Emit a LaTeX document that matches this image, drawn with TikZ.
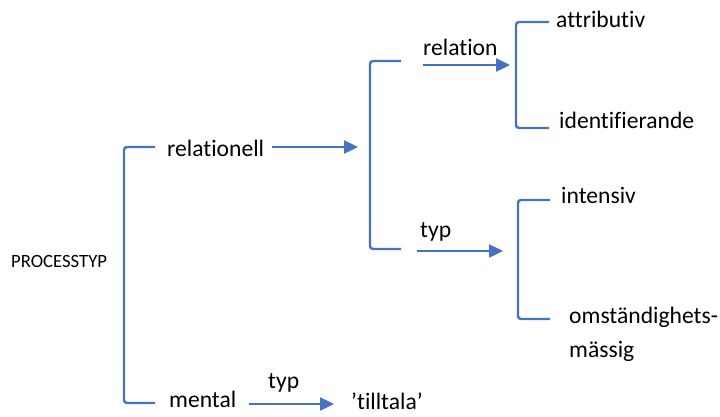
\documentclass[tikz,border=0pt]{standalone}
\usepackage{fontspec}
\setmainfont{Carlito}[Ligatures=NoCommon]
\usetikzlibrary{arrows.meta}
\definecolor{linkblue}{HTML}{4472C4}
\begin{document}
\begin{tikzpicture}[x=1pt,y=-1pt,
  lbl/.style={anchor=base west,inner sep=0pt,font=\fontsize{23.6}{28}\selectfont},
  small/.style={anchor=base west,inner sep=0pt,font=\fontsize{18.7}{22}\selectfont},
  brace/.style={draw=linkblue,line width=2.4pt,rounded corners=3pt},
  link/.style={draw=linkblue,line width=2.4pt,-{Triangle[length=14pt,width=13pt]}}]
\useasboundingbox (0,0) rectangle (720,416);

% labels (placed by baseline)
\node[small] (proc) at (11,267) {PROCESSTYP};
\node[lbl] (relnell) at (167,156) {relationell};
\node[lbl] (mental) at (169,407) {mental};
\node[lbl] (typlow) at (268,388) {typ};
\node[lbl] (tilltala) at (351,409) {’tilltala’};
\node[lbl] (relation) at (423,55) {relation};
\node[lbl] (typup) at (420,237) {typ};
\node[lbl] (attr) at (556,27) {attributiv};
\node[lbl] (ident) at (559,128) {identifierande};
\node[lbl] (intens) at (561,203) {intensiv};
\node[lbl] (omst) at (569,323) {omständighets-};
\node[lbl] (massig) at (569,357) {mässig};

% brackets
\draw[brace] (155,147) -- (124,147) -- (124,403) -- (155,403);
\draw[brace] (401,61) -- (370,61) -- (370,249) -- (401,249);
\draw[brace] (549,22) -- (516,22) -- (516,128) -- (549,128);
\draw[brace] (550,200) -- (518,200) -- (518,319) -- (550,319);

% arrow end points
\coordinate (a1s) at (272,147);
\coordinate (a1e) at (358,147);
\coordinate (a2s) at (423,65);
\coordinate (a2e) at (510,65);
\coordinate (a3s) at (417,251);
\coordinate (a3e) at (503,251);
\coordinate (a4s) at (249,404);
\coordinate (a4e) at (334,404);

\draw[link] (a1s) -- (a1e);
\draw[link] (a2s) -- (a2e);
\draw[link] (a3s) -- (a3e);
\draw[link] (a4s) -- (a4e);
\end{tikzpicture}
\end{document}
